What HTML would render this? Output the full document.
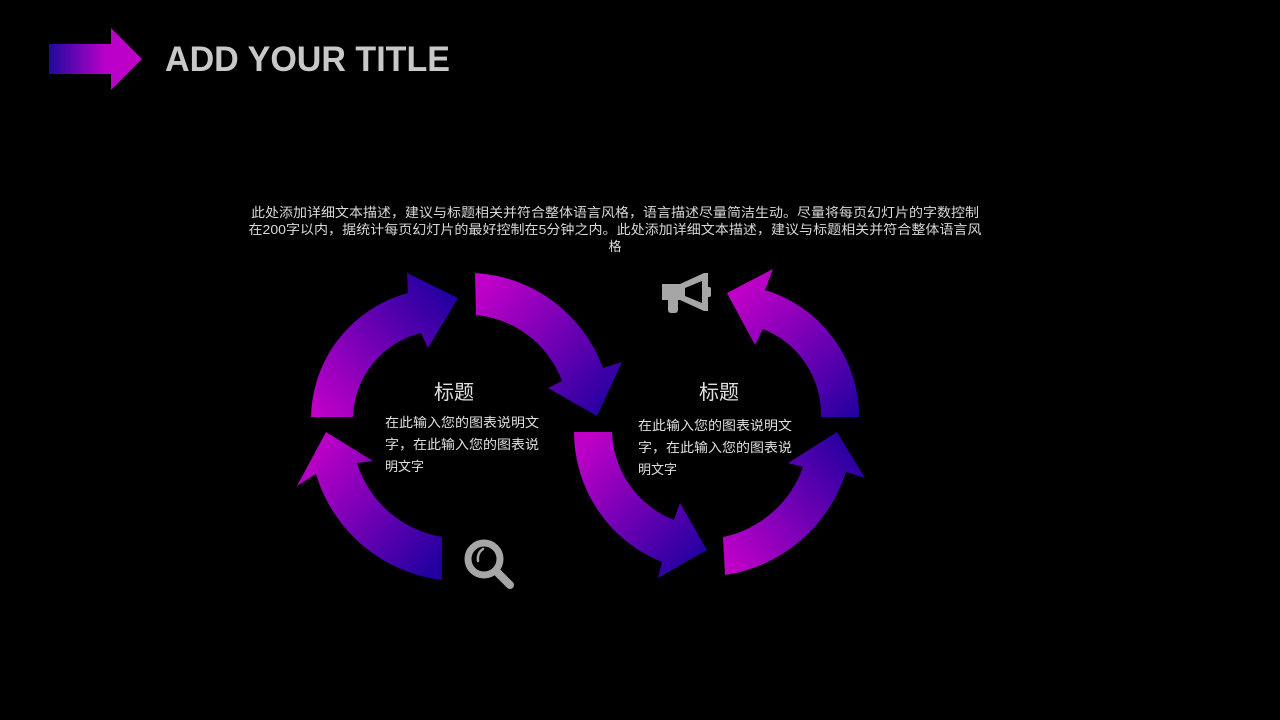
<!DOCTYPE html>
<html><head><meta charset="utf-8"><style>
html,body{margin:0;padding:0;background:#000;width:1280px;height:720px;overflow:hidden}
svg{display:block}
text{font-family:"Liberation Sans","Noto Sans CJK SC",sans-serif}
</style></head><body>
<svg width="1280" height="720" viewBox="0 0 1280 720" xmlns="http://www.w3.org/2000/svg">
<defs>
<linearGradient id="h" x1="49" y1="0" x2="142" y2="0" gradientUnits="userSpaceOnUse"><stop offset="0" stop-color="#1e0aa0"/><stop offset="0.6" stop-color="#b800c8"/><stop offset="1" stop-color="#c000c8"/></linearGradient>
<linearGradient id="g1" x1="320" y1="417" x2="455" y2="300" gradientUnits="userSpaceOnUse"><stop offset="0" stop-color="#c000c8"/><stop offset="1" stop-color="#2200a0"/></linearGradient>
<linearGradient id="g2" x1="480" y1="290" x2="610" y2="410" gradientUnits="userSpaceOnUse"><stop offset="0" stop-color="#c000c8"/><stop offset="1" stop-color="#2200a0"/></linearGradient>
<linearGradient id="g3" x1="310" y1="450" x2="442" y2="560" gradientUnits="userSpaceOnUse"><stop offset="0" stop-color="#c000c8"/><stop offset="1" stop-color="#2200a0"/></linearGradient>
<linearGradient id="g4" x1="585" y1="440" x2="705" y2="555" gradientUnits="userSpaceOnUse"><stop offset="0" stop-color="#c000c8"/><stop offset="1" stop-color="#2200a0"/></linearGradient>
<linearGradient id="g5" x1="725" y1="560" x2="860" y2="450" gradientUnits="userSpaceOnUse"><stop offset="0" stop-color="#c000c8"/><stop offset="1" stop-color="#2200a0"/></linearGradient>
<linearGradient id="g6" x1="740" y1="290" x2="858" y2="417" gradientUnits="userSpaceOnUse"><stop offset="0" stop-color="#c000c8"/><stop offset="1" stop-color="#2200a0"/></linearGradient>
</defs>
<polygon points="49,44 111,44 111,28 142,59 111,90 111,74 49,74" fill="url(#h)"/>
<text x="165" y="71" font-size="35" font-weight="bold" fill="#c8c8c8" textLength="285" lengthAdjust="spacingAndGlyphs">ADD YOUR TITLE</text>

<g font-size="13" fill="#d9d9d9" text-anchor="middle">
<text x="615" y="217" textLength="728" lengthAdjust="spacingAndGlyphs">此处添加详细文本描述，建议与标题相关并符合整体语言风格，语言描述尽量简洁生动。尽量将每页幻灯片的字数控制</text>
<text x="615" y="234" textLength="733" lengthAdjust="spacingAndGlyphs">在200字以内，据统计每页幻灯片的最好控制在5分钟之内。此处添加详细文本描述，建议与标题相关并符合整体语言风</text>
<text x="615" y="251">格</text>
</g>

<path d="M311,417 A131,131 0 0 1 408,293 L407,273 L458,298 L428,348 L421,333 A89,89 0 0 0 353,417 Z" fill="url(#g1)"/>
<path d="M475,273 A145,145 0 0 1 603,368 L622,362 L597,416 L548,388 L562,381 A102,102 0 0 0 476,315 Z" fill="url(#g2)"/>
<path d="M442,580 A150,150 0 0 1 316,474 L297,486 L326,432 L373,461 L357,463 A108,108 0 0 0 442,537 Z" fill="url(#g3)"/>
<path d="M574,432 A140,140 0 0 0 662,562 L658,578 L707,550 L680,503 L674,520 A98,98 0 0 1 612,432 Z" fill="url(#g4)"/>
<path d="M725,575 A150,150 0 0 0 846,472 L865,478 L837,432 L788,463 L803,467 A108,108 0 0 1 723,537 Z" fill="url(#g5)"/>
<path d="M859,417 A132,132 0 0 0 765,290 L773,269 L727,293 L755,345 L763,329 A92,92 0 0 1 821,417 Z" fill="url(#g6)"/>

<!-- megaphone -->
<g fill="#a6a6a6">
<path d="M662,284 L680,284 L704,273 L708,273 L708,311 L704,311 L680,300 L662,300 Z"/>
<rect x="668" y="298" width="10" height="15" rx="3"/>
<rect x="706" y="287" width="5" height="10" rx="2"/>
</g>
<path d="M685,288 L702,281 L702,303 L685,296 Z" fill="#000"/>
<!-- magnifier -->
<circle cx="484" cy="559" r="16" fill="none" stroke="#a6a6a6" stroke-width="7"/>
<line x1="496" y1="571" x2="510" y2="585" stroke="#a6a6a6" stroke-width="8" stroke-linecap="round"/>
<path d="M478,561 Q477,553 483,549" fill="none" stroke="#a6a6a6" stroke-width="2.5" stroke-linecap="round"/>

<g fill="#e0e0e0">
<text x="454" y="399" font-size="20" text-anchor="middle">标题</text>
<text x="719" y="399" font-size="20" text-anchor="middle">标题</text>
<g font-size="13">
<text x="385" y="427" textLength="154" lengthAdjust="spacingAndGlyphs">在此输入您的图表说明文</text>
<text x="385" y="449" textLength="154" lengthAdjust="spacingAndGlyphs">字，在此输入您的图表说</text>
<text x="385" y="471">明文字</text>
<text x="638" y="430" textLength="154" lengthAdjust="spacingAndGlyphs">在此输入您的图表说明文</text>
<text x="638" y="452" textLength="154" lengthAdjust="spacingAndGlyphs">字，在此输入您的图表说</text>
<text x="638" y="474">明文字</text>
</g>
</g>
</svg>
</body></html>
